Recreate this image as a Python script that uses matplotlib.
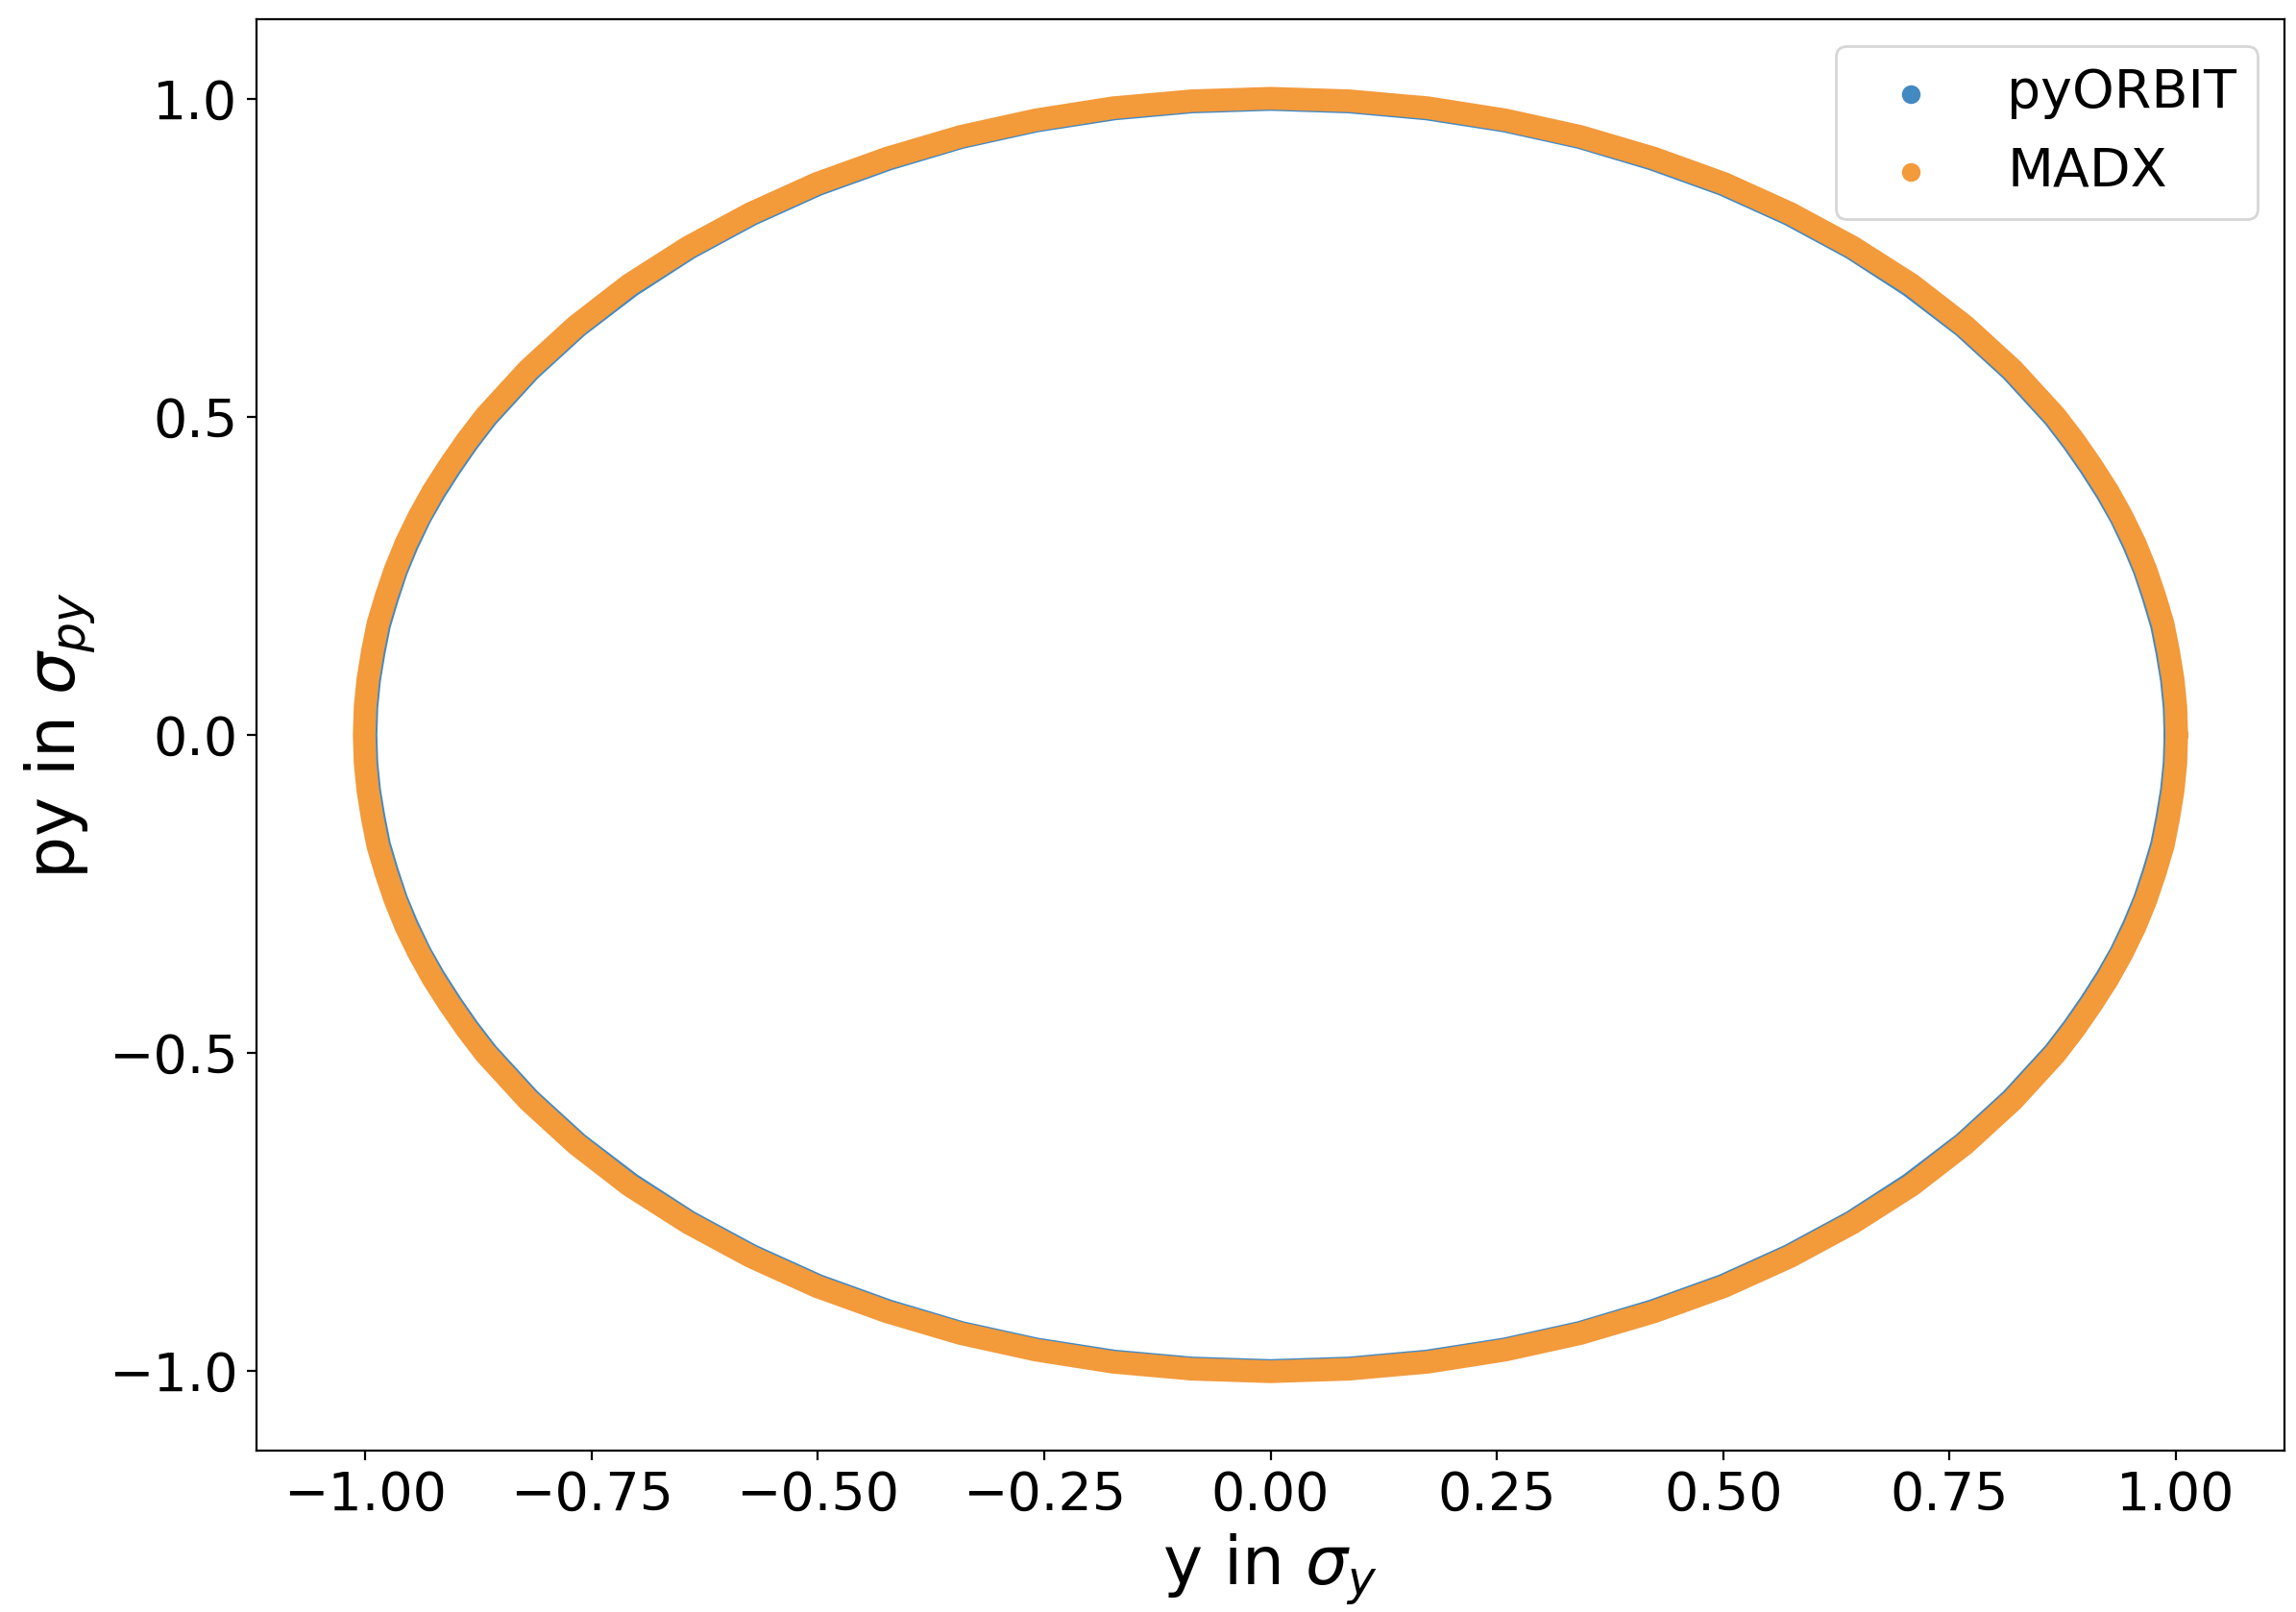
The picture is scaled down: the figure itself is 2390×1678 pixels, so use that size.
import numpy as np
import matplotlib
matplotlib.use("Agg")
import matplotlib.pyplot as plt

# Normalised phase-space coordinates read off the ring
# (denser sampling near y = +-1 where the ellipse bends fastest)
pyorbit_y = [0.999, 0.998, 0.995, 0.990, 0.984, 0.975, 0.965, 0.953, 0.939, 0.923, 0.905, 0.886, 0.865,
             0.818, 0.765, 0.706, 0.642, 0.573, 0.500, 0.422, 0.342, 0.259, 0.173, 0.087, 0.000,
             -0.087, -0.173, -0.259, -0.342, -0.422, -0.500, -0.573, -0.642, -0.706, -0.765, -0.818, -0.865,
             -0.886, -0.905, -0.923, -0.939, -0.953, -0.965, -0.975, -0.984, -0.990, -0.995, -0.998, -0.999,
             -0.998, -0.995, -0.990, -0.984, -0.975, -0.965, -0.953, -0.939, -0.923, -0.905, -0.886,
             -0.865, -0.818, -0.765, -0.706, -0.642, -0.573, -0.500, -0.422, -0.342, -0.259, -0.173, -0.087, 0.000,
             0.087, 0.173, 0.259, 0.342, 0.422, 0.500, 0.573, 0.642, 0.706, 0.765, 0.818, 0.865,
             0.886, 0.905, 0.923, 0.939, 0.953, 0.965, 0.975, 0.984, 0.990, 0.995, 0.998]
pyorbit_py = [0.000, 0.044, 0.087, 0.130, 0.173, 0.216, 0.259, 0.300, 0.342, 0.382, 0.422, 0.461, 0.500,
              0.573, 0.642, 0.706, 0.765, 0.818, 0.865, 0.905, 0.939, 0.965, 0.984, 0.995, 0.999,
              0.995, 0.984, 0.965, 0.939, 0.905, 0.865, 0.818, 0.765, 0.706, 0.642, 0.573, 0.500,
              0.461, 0.422, 0.382, 0.342, 0.300, 0.259, 0.216, 0.173, 0.130, 0.087, 0.044, 0.000,
              -0.044, -0.087, -0.130, -0.173, -0.216, -0.259, -0.300, -0.342, -0.382, -0.422, -0.461,
              -0.500, -0.573, -0.642, -0.706, -0.765, -0.818, -0.865, -0.905, -0.939, -0.965, -0.984, -0.995, -0.999,
              -0.995, -0.984, -0.965, -0.939, -0.905, -0.865, -0.818, -0.765, -0.706, -0.642, -0.573, -0.500,
              -0.461, -0.422, -0.382, -0.342, -0.300, -0.259, -0.216, -0.173, -0.130, -0.087, -0.044]

madx_y = [1.001, 1.000, 0.997, 0.992, 0.986, 0.977, 0.967, 0.955, 0.941, 0.925, 0.907, 0.888, 0.867,
          0.820, 0.767, 0.708, 0.643, 0.574, 0.501, 0.423, 0.342, 0.259, 0.174, 0.087, 0.000,
          -0.087, -0.174, -0.259, -0.342, -0.423, -0.501, -0.574, -0.643, -0.708, -0.767, -0.820, -0.867,
          -0.888, -0.907, -0.925, -0.941, -0.955, -0.967, -0.977, -0.986, -0.992, -0.997, -1.000, -1.001,
          -1.000, -0.997, -0.992, -0.986, -0.977, -0.967, -0.955, -0.941, -0.925, -0.907, -0.888,
          -0.867, -0.820, -0.767, -0.708, -0.643, -0.574, -0.501, -0.423, -0.342, -0.259, -0.174, -0.087, 0.000,
          0.087, 0.174, 0.259, 0.342, 0.423, 0.501, 0.574, 0.643, 0.708, 0.767, 0.820, 0.867,
          0.888, 0.907, 0.925, 0.941, 0.955, 0.967, 0.977, 0.986, 0.992, 0.997, 1.000]
madx_py = [0.000, 0.044, 0.087, 0.131, 0.174, 0.217, 0.259, 0.301, 0.342, 0.383, 0.423, 0.462, 0.501,
           0.574, 0.643, 0.708, 0.767, 0.820, 0.867, 0.907, 0.941, 0.967, 0.986, 0.997, 1.001,
           0.997, 0.986, 0.967, 0.941, 0.907, 0.867, 0.820, 0.767, 0.708, 0.643, 0.574, 0.501,
           0.462, 0.423, 0.383, 0.342, 0.301, 0.259, 0.217, 0.174, 0.131, 0.087, 0.044, 0.000,
           -0.044, -0.087, -0.131, -0.174, -0.217, -0.259, -0.301, -0.342, -0.383, -0.423, -0.462,
           -0.501, -0.574, -0.643, -0.708, -0.767, -0.820, -0.867, -0.907, -0.941, -0.967, -0.986, -0.997, -1.001,
           -0.997, -0.986, -0.967, -0.941, -0.907, -0.867, -0.820, -0.767, -0.708, -0.643, -0.574, -0.501,
           -0.462, -0.423, -0.383, -0.342, -0.301, -0.259, -0.217, -0.174, -0.131, -0.087, -0.044]

blue = "#4389C2"
orange = "#F39A3B"

fig, ax = plt.subplots(figsize=(11.95, 8.39), dpi=200)
fig.subplots_adjust(left=0.1117, right=0.995, top=0.988, bottom=0.1001)

for ys, pys, col, lab in [(pyorbit_y, pyorbit_py, blue, "pyORBIT"),
                          (madx_y, madx_py, orange, "MADX")]:
    # close the ring and draw the dense band of turn-by-turn points
    ax.plot(np.append(ys, ys[0]), np.append(pys, pys[0]), color=col,
            linewidth=8.5, solid_joinstyle="round", solid_capstyle="round")
    ax.scatter(ys, pys, color=col, label=lab)

ax.set_xlim(-1.12, 1.12)
ax.set_ylim(-1.125, 1.125)
ax.set_xticks([-1.0, -0.75, -0.5, -0.25, 0.0, 0.25, 0.5, 0.75, 1.0])
ax.set_yticks([-1.0, -0.5, 0.0, 0.5, 1.0])
ax.tick_params(labelsize=20)
ax.set_xlabel(r"y in $\sigma_y$", fontsize=25)
ax.set_ylabel(r"py in $\sigma_{py}$", fontsize=25)
ax.legend(loc="upper right", fontsize=20)

fig.savefig("out.png", dpi=200)
